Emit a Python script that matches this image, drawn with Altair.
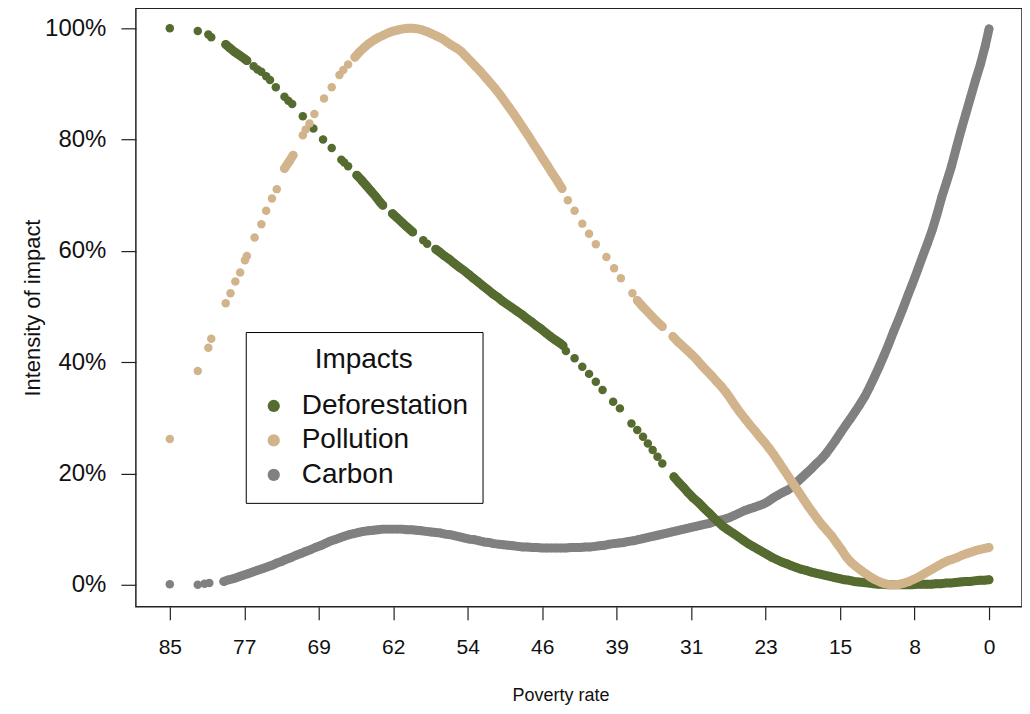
import altair as alt
import pandas as pd

# ---------------- data ----------------
series_names = ["Deforestation", "Pollution", "Carbon"]
series_colors = ["#556B2F", "#D2B48C", "#808080"]

x_tick_labels = ["85", "77", "69", "62", "54", "46", "39", "31", "23", "15", "8", "0"]
y_tick_values = [0, 20, 40, 60, 80, 100]

defor_x = [85.0, 82.1, 81.0, 80.7, 79.2, 78.8, 78.3, 77.8, 77.3, 77.0,
           76.3, 75.9, 75.5, 75.0, 74.6, 74.0, 73.1, 72.7, 72.3, 71.2,
           70.1, 69.1, 68.2, 67.2, 66.9, 66.5, 65.6, 65.1, 64.6, 64.1,
           63.6, 63.2, 62.9, 61.9, 61.4, 60.9, 60.4, 59.8, 58.7, 58.3,
           57.4, 57.0, 56.5, 56.0, 55.5, 55.0, 54.5, 54.0, 53.5, 53.0,
           52.5, 52.0, 51.5, 51.0, 50.5, 50.0, 49.5, 49.0, 48.5, 48.0,
           47.5, 47.0, 46.5, 46.0, 45.5, 45.0, 44.5, 44.2,
           43.9, 43.0, 42.2, 41.5, 40.8, 40.1, 39.0, 38.3, 37.1, 36.5,
           35.9, 35.4, 34.9, 34.4, 33.9,
           32.7, 32.2, 31.7, 31.2, 30.7, 30.1, 29.6, 29.1, 28.6, 28.1,
           27.6, 27.1, 26.5,
           26.0, 25.5, 25.0, 24.5, 24.0, 23.5, 23.0, 22.5, 22.0, 21.5,
           21.0, 20.5, 20.0, 19.5, 19.0, 18.5, 18.0, 17.5, 17.0, 16.5,
           16.0, 15.5, 15.0, 14.5, 14.0, 13.5, 13.0, 12.5, 12.0, 11.5,
           11.0, 10.5, 10.0, 9.5, 9.0, 8.5, 8.0, 7.5, 7.0, 6.5,
           6.0, 5.5, 5.0, 4.5, 4.0, 3.5, 3.0, 2.5, 2.0, 1.5,
           1.0, 0.5, 0.0]
defor_y = [100.0, 99.5, 98.9, 98.4, 97.1, 96.5, 95.8, 95.2, 94.6, 94.2,
           93.2, 92.6, 92.2, 91.4, 90.7, 89.4, 87.7, 87.0, 86.4, 84.2,
           82.0, 80.0, 78.5, 76.4, 75.9, 75.2, 73.6, 72.7, 71.7, 70.7,
           69.7, 68.8, 68.2, 66.7, 65.9, 65.1, 64.3, 63.4, 61.9, 61.3,
           60.3, 59.8, 59.1, 58.5, 57.8, 57.1, 56.5, 55.8, 55.1, 54.4,
           53.7, 53.0, 52.3, 51.7, 51.0, 50.4, 49.8, 49.2, 48.6, 47.9,
           47.3, 46.6, 46.0, 45.3, 44.6, 44.0, 43.4, 43.0,
           42.0, 40.7, 39.2, 37.9, 36.5, 35.0, 32.9, 31.7, 29.0, 27.8,
           26.6, 25.4, 24.2, 23.0, 21.8,
           19.4, 18.4, 17.5, 16.5, 15.6, 14.7, 13.8, 13.0, 12.1, 11.3,
           10.5, 9.9, 9.2,
           8.6, 8.0, 7.4, 6.9, 6.4, 5.9, 5.4, 4.9, 4.5, 4.1,
           3.8, 3.4, 3.1, 2.8, 2.6, 2.3, 2.1, 1.9, 1.7, 1.5,
           1.3, 1.1, 0.9, 0.8, 0.6, 0.5, 0.4, 0.3, 0.2, 0.1,
           0.1, 0.0, 0.0, 0.0, 0.0, 0.0, 0.0, 0.1, 0.1, 0.1,
           0.1, 0.2, 0.2, 0.3, 0.3, 0.4, 0.5, 0.6, 0.6, 0.7,
           0.8, 0.8, 0.9]
# stretches where the dots overlap into a solid band (poverty rate from, to)
defor_runs = [(79.2, 77.0), (65.6, 62.9), (61.9, 59.8), (57.4, 44.2), (32.7, 0.0)]

pollu_x = [85.0, 82.1, 81.0, 80.7, 79.2, 78.7, 78.2, 77.7, 77.2, 77.0,
           76.2, 75.5, 75.0, 74.4, 73.9, 73.1, 72.6, 72.2, 71.2, 70.9,
           70.5, 70.0, 69.0, 68.2, 67.4, 67.0, 66.5,
           65.8, 65.3, 64.8, 64.3, 63.8, 63.3, 62.8, 62.3, 61.8, 61.3,
           60.8, 60.3, 59.8, 59.3, 58.8, 58.3, 57.8, 57.3, 56.8, 56.3,
           55.8, 55.3, 54.8, 54.3, 53.8, 53.3, 52.8, 52.3, 51.8, 51.3,
           50.8, 50.3, 49.8, 49.3, 48.8, 48.3, 47.8, 47.3, 46.8, 46.3,
           45.8, 45.3, 44.8, 44.3,
           43.7, 43.0, 42.2, 41.5, 40.8, 39.7, 38.9, 38.2, 37.0,
           36.5, 36.0, 35.5, 35.0, 34.5, 33.9,
           32.8, 32.3, 31.8, 31.3, 30.8, 30.3, 29.8, 29.3, 28.8, 28.3,
           27.8, 27.3, 26.8, 26.3, 25.8, 25.3, 24.8, 24.3, 23.8, 23.3,
           22.8, 22.3, 21.8, 21.3, 20.8, 20.3, 19.8, 19.3, 18.8, 18.3,
           17.8, 17.3, 16.8, 16.3, 15.8, 15.3, 14.8, 14.3, 13.8, 13.3,
           12.8, 12.3, 11.8, 11.3, 10.8, 10.3, 9.8, 9.3, 8.8, 8.3,
           7.8, 7.3, 6.8, 6.3, 5.8, 5.3, 4.8, 4.3, 3.8, 3.3,
           2.8, 2.3, 1.8, 1.3, 0.8, 0.3, 0.0]
pollu_y = [26.2, 38.4, 42.6, 44.2, 50.6, 52.4, 54.5, 56.1, 58.3, 59.1,
           62.4, 64.8, 67.2, 69.4, 71.1, 74.8, 76.1, 77.2, 80.8, 81.8,
           82.9, 84.6, 87.4, 89.4, 91.6, 92.5, 93.5,
           94.8, 95.8, 96.6, 97.3, 97.9, 98.4, 98.8, 99.2, 99.5, 99.7,
           99.9, 100.0, 100.0, 99.9, 99.7, 99.4, 99.0, 98.6, 98.2, 97.6,
           97.0, 96.5, 95.9, 95.0, 94.1, 93.2, 92.3, 91.3, 90.3, 89.3,
           88.2, 87.0, 85.8, 84.6, 83.3, 82.0, 80.7, 79.3, 78.0, 76.6,
           75.3, 73.9, 72.6, 71.2,
           69.1, 67.2, 64.9, 63.1, 61.2, 58.9, 56.9, 55.1, 52.4,
           51.1, 50.1, 49.2, 48.3, 47.4, 46.4,
           44.6, 43.7, 42.9, 42.1, 41.3, 40.4, 39.4, 38.5, 37.6, 36.6,
           35.7, 34.6, 33.4, 32.1, 30.9, 29.8, 28.7, 27.7, 26.6, 25.6,
           24.5, 23.3, 22.0, 20.7, 19.4, 18.1, 16.8, 15.5, 14.2, 13.0,
           11.8, 10.7, 9.7, 8.7, 7.5, 6.3, 5.0, 4.0, 3.3, 2.6,
           2.0, 1.4, 0.9, 0.5, 0.2, 0.0, 0.0, 0.1, 0.3, 0.6,
           1.0, 1.4, 1.9, 2.4, 2.9, 3.4, 3.9, 4.3, 4.6, 4.9,
           5.3, 5.6, 5.9, 6.2, 6.4, 6.6, 6.7]
pollu_runs = [(73.1, 72.2), (65.8, 44.3), (36.5, 33.9), (32.8, 0.0)]

carbon_x = [85.0, 82.1, 81.4, 80.9,
            79.4, 78.9, 78.4, 77.9, 77.4, 76.9, 76.4, 75.9, 75.4, 74.9,
            74.4, 73.9, 73.4, 72.9, 72.4, 71.9, 71.4, 70.9, 70.4, 69.9,
            69.4, 68.9, 68.4, 67.9, 67.4, 66.9, 66.4, 65.9, 65.4, 64.9,
            64.4, 63.9, 63.4, 62.9, 62.4, 61.9, 61.4, 60.9, 60.4, 59.9,
            59.4, 58.9, 58.4, 57.9, 57.4, 56.9, 56.4, 55.9, 55.4, 54.9,
            54.4, 53.9, 53.4, 52.9, 52.4, 51.9, 51.4, 50.9, 50.4, 49.9,
            49.4, 48.9, 48.4, 47.9, 47.4, 46.9, 46.4, 45.9, 45.4, 44.9,
            44.4, 43.9, 43.4, 42.9, 42.4, 41.9, 41.4, 40.9, 40.4, 39.9,
            39.4, 38.9, 38.4, 37.9, 37.4, 36.9, 36.4, 35.9, 35.4, 34.9,
            34.4, 33.9, 33.4, 32.9, 32.4, 31.9, 31.4, 30.9, 30.4, 29.9,
            29.4, 28.9, 28.4, 27.9, 27.4, 26.9, 26.4, 25.9, 25.4, 24.9,
            24.4, 23.9, 23.4, 22.9, 22.4, 21.9, 21.4, 20.9, 20.4, 19.9,
            19.4, 18.9, 18.4, 17.9, 17.4, 16.9, 16.4, 15.9, 15.4, 14.9,
            14.4, 13.9, 13.4, 12.9, 12.4, 11.9, 11.4, 10.9, 10.4, 9.9,
            9.4, 8.9, 8.4, 7.9, 7.4, 6.9, 6.4, 5.9, 5.4, 4.9,
            4.4, 3.9, 3.4, 2.9, 2.4, 1.9, 1.4, 0.9, 0.4, 0.0]
carbon_y = [0.1, 0.0, 0.2, 0.3,
            0.6, 0.9, 1.1, 1.4, 1.7, 2.0, 2.3, 2.6, 2.9, 3.2,
            3.5, 3.9, 4.2, 4.6, 4.9, 5.3, 5.6, 6.0, 6.3, 6.7,
            7.0, 7.4, 7.8, 8.1, 8.4, 8.7, 9.0, 9.2, 9.4, 9.6,
            9.7, 9.8, 9.9, 10.0, 10.0, 10.0, 10.0, 10.0, 9.9, 9.9,
            9.8, 9.7, 9.6, 9.5, 9.4, 9.3, 9.1, 9.0, 8.8, 8.6,
            8.4, 8.2, 8.1, 7.9, 7.7, 7.6, 7.4, 7.3, 7.2, 7.1,
            7.0, 6.9, 6.8, 6.8, 6.7, 6.7, 6.6, 6.6, 6.6, 6.6,
            6.6, 6.6, 6.7, 6.7, 6.7, 6.8, 6.8, 6.9, 7.0, 7.1,
            7.3, 7.4, 7.5, 7.6, 7.8, 7.9, 8.1, 8.3, 8.5, 8.7,
            8.9, 9.1, 9.3, 9.5, 9.7, 9.9, 10.1, 10.3, 10.5, 10.7,
            10.9, 11.1, 11.4, 11.6, 11.8, 12.1, 12.5, 12.9, 13.3, 13.6,
            13.9, 14.2, 14.5, 15.0, 15.6, 16.1, 16.6, 17.0, 17.6, 18.5,
            19.3, 20.1, 20.9, 21.8, 22.6, 23.6, 24.8, 26.0, 27.3, 28.6,
            29.8, 31.1, 32.4, 33.8, 35.5, 37.3, 39.2, 41.2, 43.3, 45.5,
            47.6, 49.8, 52.1, 54.3, 56.6, 59.0, 61.3, 63.7, 66.6, 69.7,
            72.4, 75.2, 78.5, 81.7, 84.7, 87.7, 90.7, 93.5, 96.8, 99.9]
carbon_runs = [(79.4, 0.0)]

assert len(defor_x) == len(defor_y)
assert len(pollu_x) == len(pollu_y)
assert len(carbon_x) == len(carbon_y)

# ---------------- table ----------------
rows = []
for name, xs, ys, runs in [("Carbon", carbon_x, carbon_y, carbon_runs),
                           ("Deforestation", defor_x, defor_y, defor_runs),
                           ("Pollution", pollu_x, pollu_y, pollu_runs)]:
    for xv, yv in zip(xs, ys):
        seg = -1
        for k, (hi, lo) in enumerate(runs):
            if lo - 1e-9 <= xv <= hi + 1e-9:
                seg = k
        rows.append({"Impacts": name, "poverty": xv, "intensity": yv, "seg": seg})
df = pd.DataFrame(rows)

# tick positions evenly spaced from 85 down to 0
step = 85 / 11
x_tick_values = [85 - i * step for i in range(12)]
label_array = "[" + ",".join("'" + s + "'" for s in x_tick_labels) + "]"
x_label_expr = label_array + "[round((85 - datum.value) / " + repr(step) + ")]"

FONT = "Liberation Sans"
TXT = "#111111"
DOT = 72

x_enc = alt.X(
    "poverty:Q",
    scale=alt.Scale(domain=[-3.42, 88.52], reverse=True, nice=False, zero=False),
    axis=alt.Axis(
        values=x_tick_values, labelExpr=x_label_expr, title="Poverty rate",
        grid=False, domain=False, ticks=True, tickSize=13, tickColor="#222222",
        tickWidth=1.2, labelFont=FONT, labelFontSize=21, labelColor=TXT,
        labelPadding=17, labelFlush=False, labelOverlap=False,
        titleFont=FONT, titleFontSize=18, titleFontWeight="normal",
        titleColor=TXT, titleX=425, titleY=89, titleAlign="center",
        titleBaseline="middle",
    ),
)
y_enc = alt.Y(
    "intensity:Q",
    scale=alt.Scale(domain=[-3.95, 103.59], nice=False, zero=False),
    axis=alt.Axis(
        values=y_tick_values, labelExpr="datum.value + '%'",
        title="Intensity of impact", grid=False, domain=False, ticks=True,
        tickSize=15, tickColor="#222222", tickWidth=1.2, labelFont=FONT,
        labelFontSize=24, labelColor=TXT, labelPadding=15, labelFlush=False,
        labelOverlap=False, titleFont=FONT, titleFontSize=22,
        titleFontWeight="normal", titleColor=TXT, titleX=-103,
        titleBaseline="middle",
    ),
)
color_enc = alt.Color(
    "Impacts:N",
    scale=alt.Scale(domain=series_names, range=series_colors),
    legend=alt.Legend(
        orient="none", legendX=110, legendY=324, title="Impacts",
        titleAnchor="middle", titleFont=FONT, titleFontSize=28,
        titleFontWeight="normal", titleColor=TXT, titlePadding=18,
        labelFont=FONT, labelFontSize=28, labelColor=TXT, labelOffset=14,
        labelLimit=400, symbolType="circle", symbolSize=150,
        symbolStrokeWidth=0, symbolOpacity=1, rowPadding=6.5, padding=14,
        strokeColor="#000000", fillColor="#ffffff", cornerRadius=0,
    ),
)

base = alt.Chart(df)
layers = []
for name in ["Carbon", "Deforestation", "Pollution"]:
    col = series_colors[series_names.index(name)]
    band = base.transform_filter(
        (alt.datum.Impacts == name) & (alt.datum.seg >= 0)
    ).mark_line(strokeWidth=9, strokeCap="round", strokeJoin="round", color=col).encode(
        x=x_enc, y=y_enc, detail="seg:N", order="poverty:Q"
    )
    dots = base.transform_filter(alt.datum.Impacts == name).mark_circle(
        size=DOT, opacity=1
    ).encode(x=x_enc, y=y_enc, color=color_enc)
    layers += [band, dots]

chart = alt.layer(*layers).properties(
    width=887, height=599,
    autosize=alt.AutoSizeParams(type="none"),
    padding={"left": 128, "top": 0, "right": 0, "bottom": 98},
).configure_view(stroke="#222222", strokeWidth=1.5)

chart.save("out.html", embed_options={"renderer": "svg", "actions": False})
